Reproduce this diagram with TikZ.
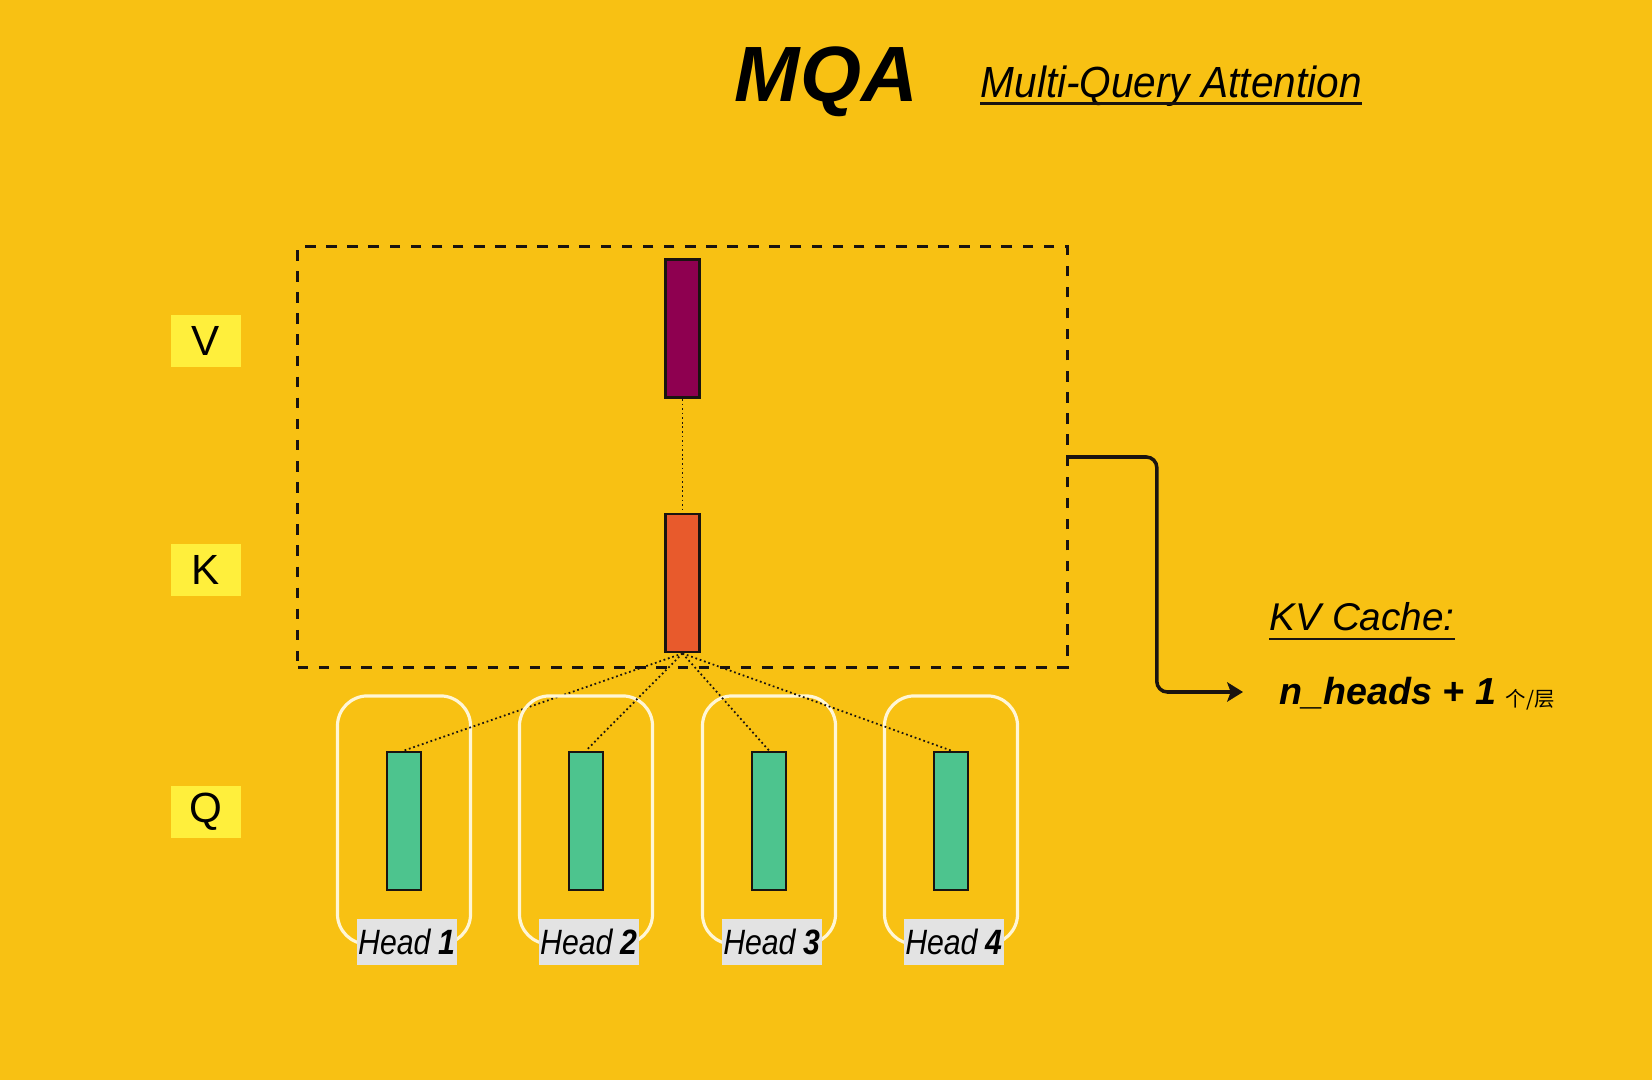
\documentclass[tikz,border=0pt]{standalone}
\usepackage{fontspec}
\setmainfont{Liberation Sans}
\newfontfamily\condfont[FakeStretch=0.86]{Liberation Sans}
\newfontfamily\subfont[FakeStretch=0.93]{Liberation Sans}
\newfontfamily\cjkfont{Noto Sans CJK SC}
\usetikzlibrary{arrows.meta,positioning,calc}
\definecolor{MQAbg}{HTML}{F8C113}
\definecolor{MQAlabel}{HTML}{FFEF3C}
\definecolor{MQAgray}{HTML}{E3E3E3}
\definecolor{MQAink}{HTML}{1A1410}
\definecolor{MQAwhite}{HTML}{FFF6D6}
\definecolor{Vpurple}{HTML}{8E0050}
\definecolor{Korange}{HTML}{E85A2C}
\definecolor{Qgreen}{HTML}{4DC48E}

\tikzset{
  vec/.style={draw=MQAink, line width=0.8pt, minimum width=0.34cm, minimum height=1.38cm, inner sep=0pt},
  mat/.style={fill=MQAlabel, minimum width=0.7cm, minimum height=0.51cm, inner sep=0pt, font=\fontsize{12}{14}\selectfont},
  headbox/.style={draw=MQAwhite, line width=0.9pt, rounded corners=0.3cm, minimum width=1.33cm, minimum height=2.48cm},
  headlabel/.style={fill=MQAgray, minimum width=1cm, minimum height=0.45cm, inner sep=0pt, font=\condfont\itshape\fontsize{10}{12}\selectfont},
  link/.style={MQAink, line width=0.5pt, dash pattern=on 0.5pt off 0.8pt}
}

\begin{document}
\begin{tikzpicture}[x=0.01cm, y=-0.01cm]
  \fill[MQAbg] (0,0) rectangle (1652,1080);
  \useasboundingbox (0,0) rectangle (1652,1080);

  % title
  \node[anchor=base west, inner sep=0pt, font=\bfseries\itshape\fontsize{22.3}{27}\selectfont] (title) at (734,102) {MQA};
  \node[anchor=base west, inner sep=0pt, font=\subfont\itshape\fontsize{12.4}{14}\selectfont] (subtitle) at (980,98) {Multi-Query Attention};
  \draw[MQAink, line width=0.8pt] ([yshift=-1.6pt]subtitle.base west) -- ([yshift=-1.6pt]subtitle.base east);

  % V, K, Q
  \node[mat] (vlabel) at (206,341) {V};
  \node[mat] (klabel) at (206,570) {K};
  \node[mat] (qlabel) at (206,812) {Q};

  \node[draw=MQAink, dash pattern=on 3pt off 3pt, line width=0.9pt, minimum width=7.69cm, minimum height=4.2cm] (kvbox) at (682.5,457) {};
  \node[vec, fill=Vpurple] (v) at (682.5,328.5) {};
  \node[vec, fill=Korange] (k) at (682.5,583) {};
  \draw[link] (v.south) -- (k.north);

  \foreach \i/\x in {1/404, 2/586, 3/769, 4/951} {
    \node[headbox] (hb\i) at (\x,820) {};
    \node[vec, fill=Qgreen] (q\i) at (\x,821) {};
    \node[headlabel] (hl\i) at (\x+3,942) {Head \textbf{\i}};
    \draw[link] (k.south) -- (q\i.north);
  }

  % kv cache
  \coordinate (kvend) at (1243,692);
  \draw[MQAink, line width=1pt, rounded corners=3pt, -{Stealth[length=4.5pt, width=5.5pt, inset=1pt]}]
    (kvbox.east) -- ++(88,0) |- (kvend);
  \node[anchor=base west, inner sep=0pt, font=\itshape\fontsize{11}{13}\selectfont] (kvtitle) at (1269,631) {KV Cache:};
  \draw[MQAink, line width=0.8pt] ([yshift=-2.3pt]kvtitle.base west) -- ([yshift=-2.3pt]kvtitle.base east);
  \node[anchor=base west, inner sep=0pt, font=\bfseries\itshape\fontsize{10.7}{13}\selectfont] (nheads) at (1279,705) {n\_heads + 1};
  \node[anchor=base west, inner sep=0pt, font=\cjkfont\fontsize{5.8}{7}\selectfont] (unit) at (1505,707) {个/层};
\end{tikzpicture}
\end{document}
